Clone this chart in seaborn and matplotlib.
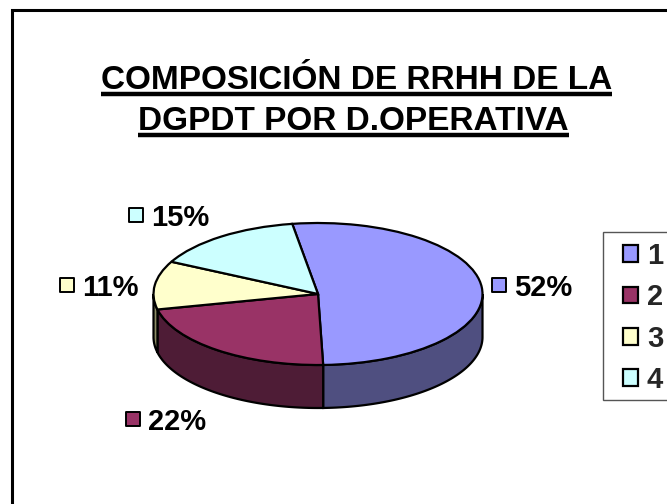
#!/bin/env python3

"""
Composition pie, drawn with a fake 3D wall under a squashed pie
"""
import numpy as np
import matplotlib
matplotlib.use('Agg')
import matplotlib.pyplot as plt
from matplotlib.patches import Polygon, Rectangle
import seaborn as sns

sns.set_style('white')
plt.rcParams['font.family'] = ['Liberation Sans', 'DejaVu Sans']

title_lines = ['COMPOSICIÓN DE RRHH DE LA', 'DGPDT POR D.OPERATIVA']
categories = ['1', '2', '3', '4']
shares = [52, 22, 11, 15]
top_colors = ['#9999FF', '#993366', '#FFFFCC', '#CCFFFF']
wall_colors = ['#4F4F80', '#4E1C36', '#8C8C66', '#66807F']

W, H = 667, 504
START = 99
DEPTH = 43 / 71  # wall height, in ellipse semi-minor units


def px_axes(fig, left, top, right, bottom):
    """
    Axes placed with pixel coords from the top left corner
    """
    return fig.add_axes([left / W, 1 - bottom / H, (right - left) / W, (bottom - top) / H])


def draw_wall(ax, values, colors):
    """
    Side of the disc: only the part of each slice in the lower half
    """
    angle = START
    for val, col in zip(values, colors):
        end = angle - val * 3.6
        lo, hi = max(end, -180), min(angle, 0)
        if lo < hi:
            t = np.radians(np.linspace(lo, hi, 80))
            x, y = np.cos(t), np.sin(t)
            pts = np.r_[np.c_[x, y], np.c_[x, y - DEPTH][::-1]]
            ax.add_patch(Polygon(pts, closed=True, fc=col, ec='black', lw=1.6, zorder=1))
        angle = end


fig = plt.figure(figsize=(W / 100, H / 100), dpi=100, facecolor='white')

# page in pixel coords, for frame and title
page = px_axes(fig, 0, 0, W, H)
page.set_xlim(0, W)
page.set_ylim(H, 0)
page.axis('off')
page.plot([11.5, 11.5, W + 5], [H + 5, 10, 10], color='black', lw=2.2, solid_joinstyle='miter')

title_x = [356.5, 353.5]
title_y = [89, 130]
under_y = [93.5, 134.5]
for line, tx, ty, uy in zip(title_lines, title_x, title_y, under_y):
    txt = page.text(tx, ty, line, ha='center', va='baseline', fontsize=24,
                    fontweight='bold', color='black')
    box = txt.get_window_extent(fig.canvas.get_renderer())
    page.plot([box.x0, box.x1], [uy, uy], color='black', lw=3.2, solid_capstyle='butt')

# pie axes: x -1..1 is the ellipse width, y goes down to the wall bottom
cx, cy, a, b = 318, 294, 164.5, 71
pie_ax = px_axes(fig, cx - a, cy - b, cx + a, cy + b + DEPTH * b)
draw_wall(pie_ax, shares, wall_colors)
wedges, _ = pie_ax.pie(shares, colors=top_colors, startangle=START, counterclock=False,
                       radius=1, wedgeprops={'edgecolor': 'black', 'linewidth': 1.6, 'zorder': 2})
pie_ax.set_aspect('auto')
pie_ax.set_xlim(-1, 1)
pie_ax.set_ylim(-1 - DEPTH, 1)
pie_ax.axis('off')
for p in pie_ax.patches:
    p.set_clip_on(False)

# data labels with colour key
label_marker_x = [491, 125, 59, 128]
label_y = [285, 419, 285, 215]
for share, col, mx, my in zip(shares, top_colors, label_marker_x, label_y):
    page.scatter([mx + 7.5], [my], s=110, marker='s', color=col, edgecolor='black',
                 linewidth=1.4, zorder=5)
    page.text(mx + 23, my, f'{share}%', ha='left', va='center_baseline', fontsize=21,
              fontweight='bold', color='black')

# legend box runs off the right side of the page
page.add_patch(Rectangle((603, 232), 80, 168, fc='white', ec='#555555', lw=1.0, zorder=3))
leg = page.legend(wedges, categories, loc='upper left', bbox_to_anchor=(623 / W, 1 - 242 / H),
                  bbox_transform=fig.transFigure, borderaxespad=0, borderpad=0,
                  prop={'weight': 'bold', 'size': 21}, handlelength=0.51,
                  handleheight=0.51, handletextpad=0.31, labelspacing=0.46, frameon=False)
leg.set_zorder(4)

fig.savefig('out.png', dpi=100)
